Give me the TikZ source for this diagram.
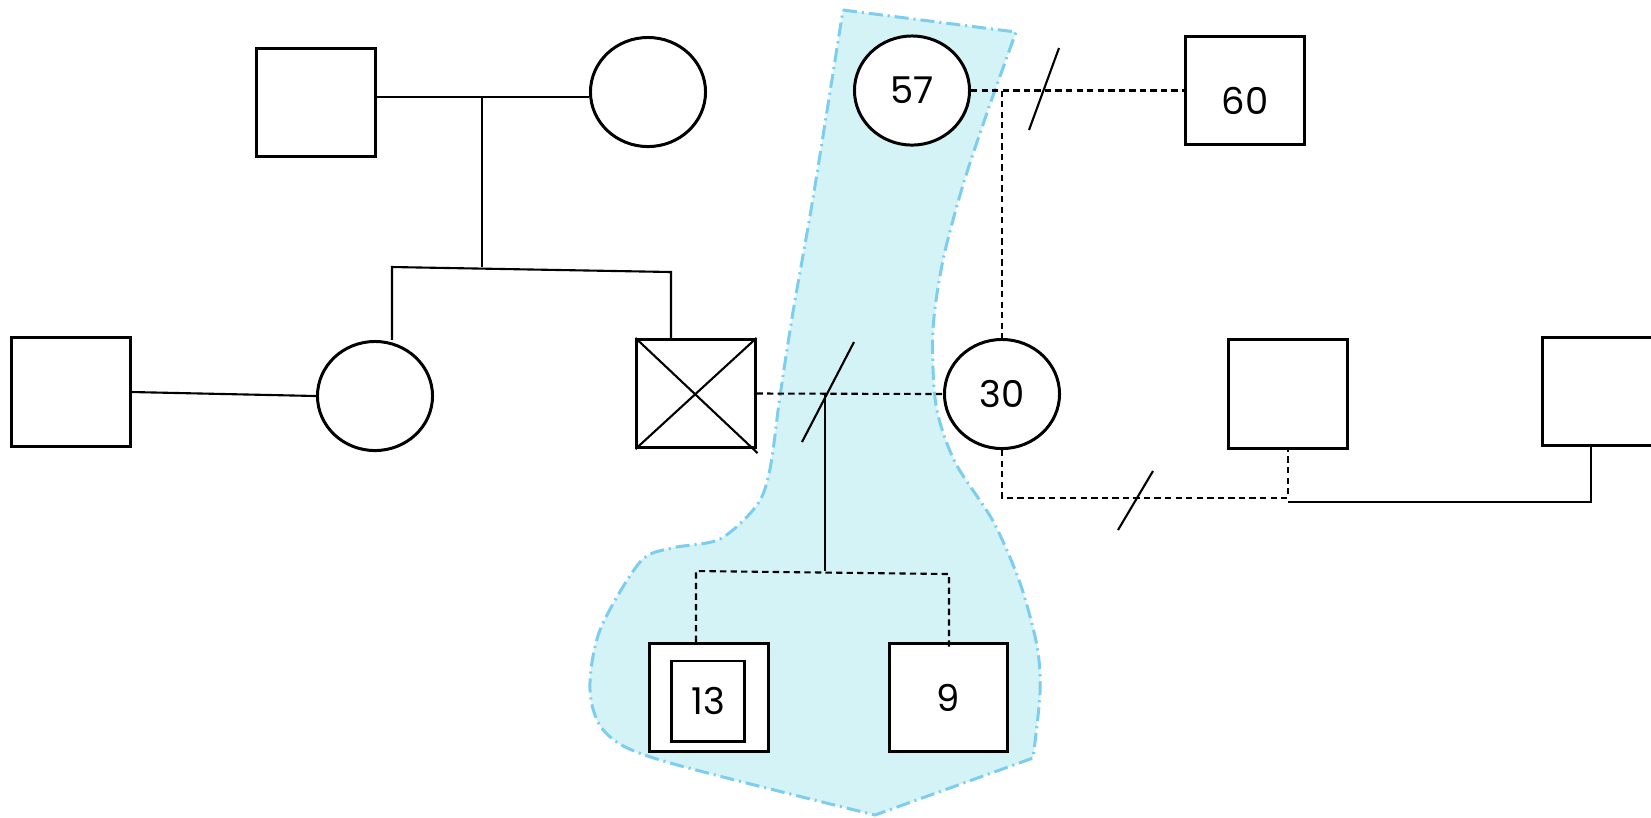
\documentclass[tikz,border=0pt]{standalone}
\usepackage{fontspec}
\setmainfont{Poppins}
\usetikzlibrary{shapes,backgrounds,calc}

\definecolor{zonefill}{RGB}{211,243,246}
\definecolor{zoneline}{RGB}{124,205,239}

\tikzset{
  male/.style={draw, fill=white, line width=0.85pt, minimum width=1.18cm, minimum height=1.08cm, inner sep=0pt, font=\fontsize{10.5}{12}\selectfont},
  female/.style={draw, fill=white, ellipse, line width=0.85pt, minimum width=1.15cm, minimum height=1.09cm, inner sep=0pt, font=\fontsize{10.5}{12}\selectfont},
  tie/.style={line width=0.6pt},
  dashtie/.style={line width=0.6pt, dash pattern=on 1.8pt off 1.2pt},
  zone/.style={fill=zonefill, draw=zoneline, line width=0.85pt, dash pattern=on 4pt off 1.4pt on 0.6pt off 1.4pt}
}

\begin{document}
\begin{tikzpicture}[x=0.01cm, y=-0.01cm]
\useasboundingbox (0,0) rectangle (1651,817);
\draw[zone] (843,10) -- (1016,32) -- plot[smooth] coordinates {(1016,32) (988,110) (963,185) (943,260) (933,330) (936,405) (955,462) (993,521) (1020,583) (1037,646) (1040,693) (1033,758)} -- (875,815) -- plot[smooth] coordinates {(875,815) (660,760) (605,732) (590,690) (600,630) (640,562) (672,548) (720,539) (757,505) (770,469) (780,396) (793,312) (813,198) (843,10)} -- cycle;

\node[male] (gpa) at (316,102.5) {};
\node[female] (gma) at (648,92) {};
\node[male] (inlaw) at (71,392) {};
\node[female] (aunt) at (375,396) {};
\node[male] (dad) at (696,393.5) {};
\node[female] (mum) at (1002,394) {30};
\node[female] (nan) at (912,90.5) {57};
\node[male, text height=13.5pt, text depth=0pt] (stepdad) at (1245,90.5) {60};
\node[male] (half) at (1288,394) {};
\node[male] (other) at (1602,391.5) {};
\node[male] (kid) at (709,697.5) {};
\node[draw, line width=0.85pt, minimum width=0.73cm, minimum height=0.8cm, inner sep=0pt, font=\fontsize{10.5}{12}\selectfont] (kidin) at (708,701) {13};
\node[male] (sib) at (948.5,697.5) {9};

\coordinate (gp) at (482,97);
\coordinate (sibl) at (392,267);
\coordinate (sibr) at (671,272);
\coordinate (cpl) at (825,394);
\coordinate (kidl) at (696,571);
\coordinate (kidr) at (949,574);
\coordinate (low) at (1001,498);
\coordinate (lowb) at (1288,502);
\coordinate (odrop) at (1591,502);

\draw[tie] (gpa.east |- gp) -- (gma.west |- gp);
\draw[tie] (gp) -- (gp |- sibl);
\draw[tie] (sibl |- aunt.north) -- (sibl) -- (sibr) -- (sibr |- dad.north);
\draw[tie] (inlaw.east) -- (aunt.west);
\draw[tie] (dad.north west) -- ($(dad.south east)+(1,4)$);
\draw[tie] (dad.south west) -- (dad.north east);

\draw[dashtie] (dad.east) -- (mum.west);
\draw[tie] (802,442) -- (854,342);
\draw[tie] (cpl) -- (cpl |- kidl);
\draw[dashtie] (kid.north -| kidl) -- (kidl) -- (kidr) -- ($(sib.north -| kidr)+(0,6)$);

\draw[dashtie] (nan.east) -- (stepdad.west);
\draw[tie] (1029,130) -- (1059,48);
\draw[dashtie] (mum.north |- nan.east) -- (mum.north);
\draw[dashtie] (mum.south) -- (mum.south |- low) -- (half.south |- low) -- (half.south);
\draw[tie] (1118,530) -- (1153,471);
\draw[tie] (lowb) -- (odrop) -- (odrop |- other.south);
\end{tikzpicture}
\end{document}
